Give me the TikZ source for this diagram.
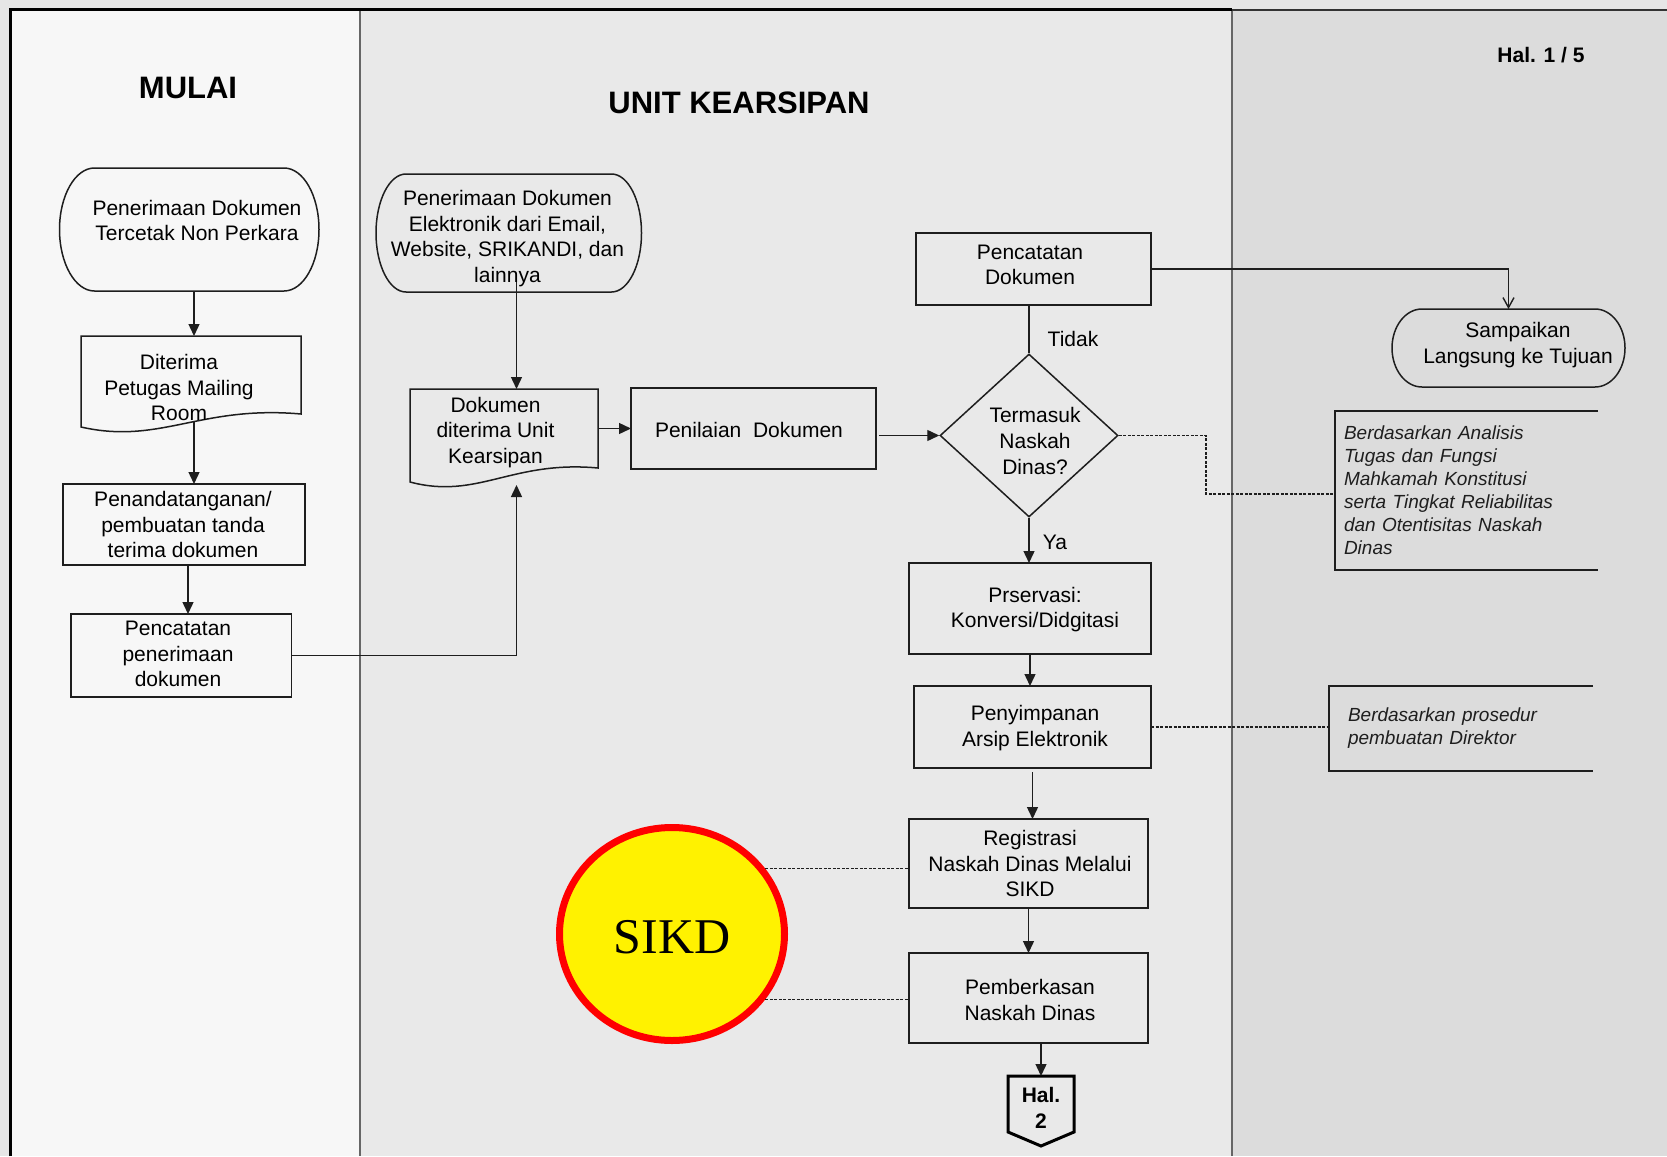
\documentclass[tikz,border=0pt]{standalone}
\usepackage{fontspec}
\setmainfont{Liberation Sans}
\newfontfamily\sikdfont{Liberation Serif}
\usetikzlibrary{shapes.geometric,arrows.meta,calc}
\definecolor{laneA}{HTML}{F7F7F7}
\definecolor{laneB}{HTML}{E9E9E9}
\definecolor{laneC}{HTML}{DCDCDC}
\definecolor{outerbg}{HTML}{E6E6E6}
\definecolor{ink}{HTML}{1E1E1E}
\newcommand\stadiumpath[3]{%
  \draw[ink, line width=1.5pt] ([xshift=#2pt]#1.north west) -- ([xshift=-#2pt]#1.north east)
    arc[start angle=90,end angle=-90,x radius=#2pt,y radius=#3pt]
    -- ([xshift=#2pt]#1.south west)
    arc[start angle=270,end angle=90,x radius=#2pt,y radius=#3pt] -- cycle;}
\newcommand\docpath[2]{%
  \draw[ink, line width=1.5pt] (#1.south west) -- (#1.north west) -- (#1.north east) -- ([yshift=#2pt]#1.south east)
    .. controls ($(#1.south west)!0.54!(#1.south east)+(0,22)$) and ($(#1.south west)!0.36!(#1.south east)+(0,-18)$) .. (#1.south west) -- cycle;}
\begin{document}
\begin{tikzpicture}[x=1pt,y=1pt,
  txt/.style={font=\fontsize{21}{25.6}\selectfont, align=center, inner sep=0pt, text=black},
  ttl/.style={font=\fontsize{31}{36}\selectfont\bfseries, inner sep=0pt},
  note/.style={font=\fontsize{19}{23}\selectfont\itshape, align=left, inner sep=0pt, text=ink},
  shp/.style={draw=none, inner sep=0pt, outer sep=0pt},
  box/.style={draw=ink, line width=1.5pt, inner sep=0pt, outer sep=0pt},
  flow/.style={draw=ink, line width=1.4pt, -{Triangle[length=12pt,width=11pt]}},
  link/.style={draw=ink, line width=1.4pt},
  dotlink/.style={draw=ink, line width=1.3pt, dash pattern=on 3pt off 1.5pt},
]
% background and lanes
\fill[outerbg] (0,0) rectangle (1667,-1156);
\useasboundingbox (0,0) rectangle (1667,-1156);
\fill[laneA] (10,-10) rectangle (360,-1156);
\fill[laneB] (360,-10) rectangle (1232,-1156);
\fill[laneC] (1232,-10) rectangle (1667,-1156);
\draw[line width=1.5pt, black!60] (360,-10) -- (360,-1156);
\draw[line width=1.5pt, black!60] (1232,-10) -- (1232,-1156);
\draw[line width=3pt, black] (10,-1156) -- (10,-10) -- (1232,-10);
\draw[line width=2.2pt, black!80] (1232,-10) -- (1667,-10);

% titles
\node[ttl] (tmulai) at (188,-88) {MULAI};
\node[ttl] (tunit) at (739,-103) {UNIT KEARSIPAN};
\node[font=\fontsize{21}{25}\selectfont\bfseries, inner sep=0pt] (thal) at (1541,-55) {Hal. 1 / 5};

% lane 1 shapes
\node[shp, minimum width=259.5pt, minimum height=123pt] (s1) at (189.25,-229.5) {};
\stadiumpath{s1}{35}{61.5}
\node[shp, minimum width=220pt, minimum height=91pt] (d1) at (191,-381.5) {};
\docpath{d1}{13}
\node[box, minimum width=242pt, minimum height=81pt] (b1) at (184,-524.5) {};
\node[box, minimum width=220.5pt, minimum height=83pt] (b2) at (181.25,-655.5) {};

% lane 2 shapes
\node[shp, minimum width=265.5pt, minimum height=118pt] (s2) at (508.75,-233) {};
\stadiumpath{s2}{30}{59}
\node[shp, minimum width=188pt, minimum height=93pt] (d2) at (504,-435.5) {};
\docpath{d2}{14}
\node[box, minimum width=245pt, minimum height=81pt] (b3) at (753.5,-428.5) {};
\node[diamond, draw=ink, line width=1.5pt, inner sep=0pt, minimum width=178pt, minimum height=163pt] (dia) at (1029,-435.5) {};
\node[box, minimum width=235pt, minimum height=72pt] (b4) at (1033.5,-269) {};
\node[box, minimum width=242pt, minimum height=91pt] (b5) at (1030,-608.5) {};
\node[box, minimum width=237pt, minimum height=82pt] (b6) at (1032.5,-727) {};
\node[box, minimum width=239pt, minimum height=89pt] (b7) at (1028.5,-863.5) {};
\node[box, minimum width=239pt, minimum height=90pt] (b8) at (1028.5,-998) {};
\node[shp, minimum width=66pt, minimum height=70pt] (hal2) at (1041,-1111) {};
\draw[black, line width=3pt, line join=miter] (hal2.north west) -- (hal2.north east) -- ([yshift=14pt]hal2.south east) -- (hal2.south) -- ([yshift=14pt]hal2.south west) -- cycle;

% lane 3 shapes
\node[shp, minimum width=233pt, minimum height=78pt] (s3) at (1508.5,-348) {};
\stadiumpath{s3}{30}{39}
\node[note, text width=245pt, minimum height=159pt, inner xsep=9pt] (ann1) at (1466.5,-490.5)
  {Berdasarkan Analisis\\Tugas dan Fungsi\\Mahkamah Konstitusi\\serta Tingkat Reliabilitas\\dan Otentisitas Naskah\\Dinas};
\draw[ink, line width=1.5pt] (ann1.north east) -- (ann1.north west) -- (ann1.south west) -- (ann1.south east);
\node[note, text width=226pt, minimum height=85pt, inner xsep=19pt] (ann2) at (1461,-728.5)
  {Berdasarkan prosedur\\pembuatan Direktor};
\draw[ink, line width=1.5pt] (ann2.north east) -- (ann2.north west) -- (ann2.south west) -- (ann2.south east);

% connectors
\coordinate (ax1) at (194,0);
\coordinate (ax2) at (188,0);
\coordinate (ax3) at (516.5,0);
\coordinate (dj) at (1206,-494);
\draw[flow] (s1.south -| ax1) -- (d1.north -| ax1);
\draw[flow] ($(d1.south -| ax1)+(0,5)$) -- (b1.north -| ax1);
\draw[flow] (b1.south -| ax2) -- (b2.north -| ax2);
\draw[flow] (b2.east) -| ($(d2.south -| ax3)+(0,-3)$);
\draw[flow] ($(s2.south -| ax3)+(0,12)$) -- (d2.north -| ax3);
\draw[flow] (d2.east |- b3.west) -- (b3.west);
\draw[flow] ($(dia.west -| b3.east)+(3,0)$) -- (dia.west);
\draw[link] (dia.north) -- (dia.north |- b4.south);
\draw[link, -{Straight Barb[length=10pt,width=11pt]}] (b4.east) -| (s3.north);
\draw[flow] (dia.south) -- (dia.south |- b5.north);
\draw[flow] (b5.south) -- (b5.south |- b6.north);
\draw[flow] ($(b6.south)+(0,-4)$) -- (b6.south |- b7.north);
\draw[flow] (b7.south) -- (b7.south |- b8.north);
\draw[flow] (hal2.north |- b8.south) -- (hal2.north);
\draw[dotlink] (dia.east) -| (dj) -- (dj -| ann1.west);
\draw[dotlink] (b6.east) -- (b6.east -| ann2.west);

% SIKD
\node[ellipse, draw=red, line width=7pt, fill=yellow, inner sep=0pt, minimum width=225pt, minimum height=213pt] (sikd) at (672,-934) {};
\draw[dotlink] (sikd.35) -- (sikd.35 -| b7.west);
\draw[dotlink] (sikd.-35) -- (sikd.-35 -| b8.west);
\node[font=\sikdfont\fontsize{50}{55}\selectfont, inner sep=0pt] (sikdt) at (672,-937) {SIKD};

% texts
\node[txt] (s1t) at (197,-220.5) {Penerimaan Dokumen\\Tercetak Non Perkara};
\node[txt] (d1t) at (179,-387.5) {Diterima\\Petugas Mailing\\Room};
\node[txt] (b1t) at (183,-524.5) {Penandatanganan/\\pembuatan tanda\\terima dokumen};
\node[txt] (b2t) at (178,-654) {Pencatatan\\penerimaan\\dokumen};
\node[txt] (s2t) at (507.5,-238.5) {Penerimaan Dokumen\\Elektronik dari Email,\\Website, SRIKANDI, dan\\lainnya};
\node[txt] (d2t) at (495.5,-432.5) {Dokumen\\diterima Unit\\Kearsipan};
\node[txt] (b3t) at (749,-429.5) {Penilaian\ \ Dokumen};
\node[txt] (diat) at (1035,-441) {Termasuk\\Naskah\\Dinas?};
\node[txt] (b4t) at (1030,-265) {Pencatatan\\Dokumen};
\node[txt] (s3t) at (1518,-345) {Sampaikan\\Langsung ke Tujuan};
\node[txt] (b5t) at (1035,-609.5) {Prservasi:\\Konversi/Didgitasi};
\node[txt] (b6t) at (1035,-728) {Penyimpanan\\Arsip Elektronik};
\node[txt] (b7t) at (1030,-863.5) {Registrasi\\Naskah Dinas Melalui\\SIKD};
\node[txt] (b8t) at (1030,-1000) {Pemberkasan\\Naskah Dinas};
\node[txt] (tidak) at (1073,-339) {Tidak};
\node[txt] (ya) at (1055,-542) {Ya};
\node[txt, font=\fontsize{21}{26}\selectfont\bfseries] (hal2t) at (1041,-1108) {Hal.\\2};
\end{tikzpicture}
\end{document}
